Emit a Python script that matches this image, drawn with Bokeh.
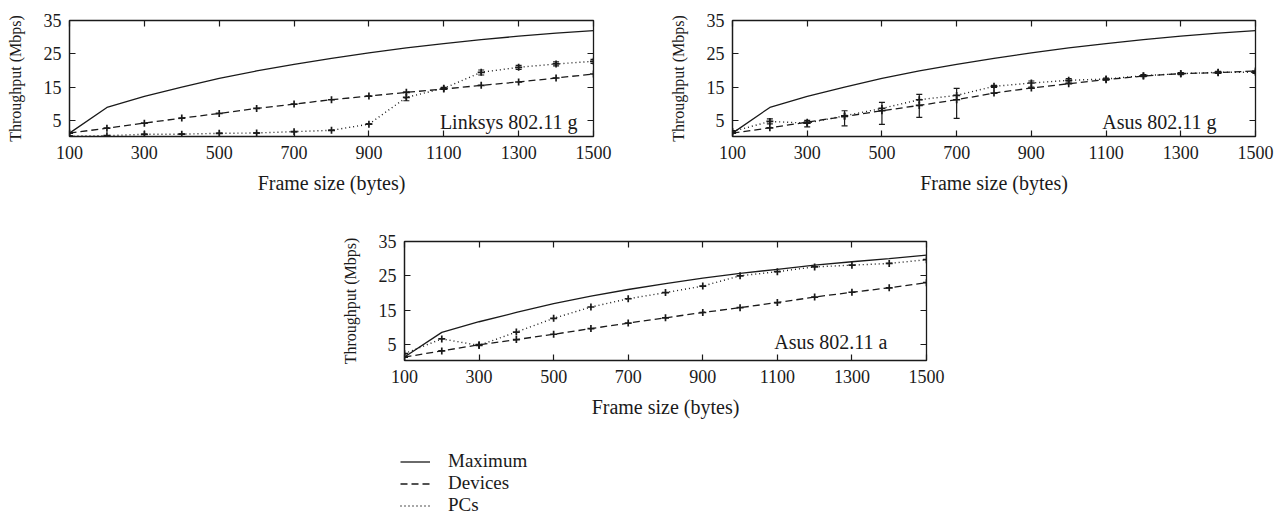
from bokeh.plotting import figure
from bokeh.models import (Range1d, FixedTicker, LinearAxis, Label, Whisker, TeeHead,
                          ColumnDataSource, Legend, LegendItem, Spacer)
from bokeh.layouts import column, row
from bokeh.embed import file_html
from bokeh.resources import INLINE

# ---------------- data ----------------
frame_sizes = [100, 200, 300, 400, 500, 600, 700, 800, 900, 1000, 1100, 1200, 1300, 1400, 1500]
x_ticks = [100, 300, 500, 700, 900, 1100, 1300, 1500]
y_ticks = [5, 15, 25, 35]

# Linksys 802.11 g
max_g = [1.3, 9.0, 12.3, 15.1, 17.7, 19.9, 21.9, 23.7, 25.3, 26.8, 28.1, 29.3, 30.3, 31.2, 32.0]
linksys_dev = [1.3, 2.8, 4.3, 5.8, 7.2, 8.7, 10.0, 11.3, 12.4, 13.5, 14.5, 15.6, 16.6, 17.8, 19.0]
linksys_pc = [0.4, 0.55, 0.95, 1.0, 1.25, 1.35, 1.75, 2.15, 4.0, 12.0, 14.7, 19.5, 21.0, 22.0, 22.8]
linksys_pc_lo = [0.4, 0.55, 0.95, 1.0, 1.25, 1.35, 1.75, 2.15, 4.0, 11.0, 14.4, 18.7, 20.4, 21.4, 22.2]
linksys_pc_hi = [0.4, 0.55, 0.95, 1.0, 1.25, 1.35, 1.75, 2.15, 4.0, 13.6, 15.0, 20.2, 21.6, 22.6, 23.4]

# Asus 802.11 g
asus_g_dev = [1.3, 2.9, 4.6, 6.3, 8.0, 9.6, 11.3, 13.3, 14.8, 16.1, 17.3, 18.4, 19.1, 19.4, 19.9]
asus_g_pc = [1.8, 4.8, 4.3, 6.5, 8.7, 11.3, 12.6, 15.3, 16.3, 17.1, 17.5, 18.5, 19.1, 19.5, 19.5]
asus_g_pc_lo = [1.5, 4.1, 3.2, 3.5, 3.9, 6.0, 5.7, 15.0, 15.1, 16.6, 17.2, 18.2, 18.8, 19.2, 19.2]
asus_g_pc_hi = [2.1, 5.6, 5.1, 8.0, 10.5, 12.9, 14.7, 15.6, 16.9, 17.6, 17.8, 18.8, 19.4, 19.8, 19.8]

# Asus 802.11 a
max_a = [1.3, 8.5, 11.6, 14.3, 16.9, 19.05, 21.0, 22.7, 24.3, 25.7, 26.9, 28.1, 29.1, 30.0, 31.0]
asus_a_dev = [1.3, 3.1, 4.9, 6.4, 7.95, 9.6, 11.2, 12.75, 14.3, 15.7, 17.2, 18.8, 20.2, 21.5, 23.0]
asus_a_pc = [2.3, 6.6, 4.7, 8.6, 12.6, 15.9, 18.3, 20.1, 22.0, 25.0, 26.2, 27.6, 28.1, 28.6, 29.7]

series_names = ["Maximum", "Devices", "PCs"]
panel_titles = ["Linksys 802.11 g", "Asus 802.11 g", "Asus 802.11 a"]

FONT = "Liberation Serif"
INK = "#1a1a1a"


def make_panel(width, height, bl, br, bt, bb, maxv, dev, pc, pc_lo, pc_hi, title, lx, ly):
    p = figure(width=width, height=height, output_backend="svg", toolbar_location=None,
               x_range=Range1d(100, 1500), y_range=Range1d(0.3, 35),
               min_border_left=bl, min_border_right=br, min_border_top=bt, min_border_bottom=bb,
               x_axis_label="Frame size (bytes)", y_axis_label="Throughput (Mbps)")
    p.grid.visible = False
    p.outline_line_color = INK
    p.outline_line_width = 1.3
    p.background_fill_color = None
    p.border_fill_color = None

    xa = p.xaxis[0]
    ya = p.yaxis[0]
    xa.ticker = FixedTicker(ticks=x_ticks)
    ya.ticker = FixedTicker(ticks=y_ticks)
    for ax in (xa, ya):
        ax.major_tick_in = 6
        ax.major_tick_out = 0
        ax.minor_tick_line_color = None
        ax.major_tick_line_color = INK
        ax.major_tick_line_width = 1.2
        ax.axis_line_color = INK
        ax.axis_line_width = 1.2
        ax.major_label_text_font = FONT
        ax.major_label_text_font_size = "18px"
        ax.major_label_text_color = INK
        ax.axis_label_text_font = FONT
        ax.axis_label_text_font_style = "normal"
        ax.axis_label_text_color = INK
    xa.major_label_standoff = 9
    xa.axis_label_standoff = 10
    xa.axis_label_text_font_size = "20px"
    ya.major_label_standoff = 8
    ya.axis_label_standoff = 17
    ya.axis_label_text_font_size = "16px"

    # mirrored tick marks on top and right (no labels)
    for side, tk in (("above", x_ticks), ("right", y_ticks)):
        m = LinearAxis(ticker=FixedTicker(ticks=tk), major_tick_in=6, major_tick_out=0,
                       minor_tick_line_color=None, axis_line_color=None,
                       major_tick_line_color=INK, major_tick_line_width=1.2,
                       major_label_overrides={t: "" for t in tk},
                       major_label_text_font_size="1px", major_label_standoff=0)
        p.add_layout(m, side)

    has_err = pc_lo is not None
    src = ColumnDataSource(dict(x=frame_sizes, maxv=maxv, dev=dev, pc=pc,
                                lo=pc_lo if has_err else pc, hi=pc_hi if has_err else pc))
    p.line("x", "maxv", source=src, line_color=INK, line_width=1.3)
    p.line("x", "dev", source=src, line_color=INK, line_width=1.3, line_dash="7 4")
    p.line("x", "pc", source=src, line_color=INK, line_width=1.4, line_dash="1 3")
    p.scatter("x", "dev", source=src, marker="cross", size=7, line_color=INK, line_width=1.7)
    p.scatter("x", "pc", source=src, marker="cross", size=7, line_color=INK, line_width=1.7)
    if has_err:
        w = Whisker(base="x", lower="lo", upper="hi", source=src, line_color=INK, line_width=1.2,
                    upper_head=TeeHead(size=6, line_color=INK, line_width=1.2),
                    lower_head=TeeHead(size=6, line_color=INK, line_width=1.2))
        p.add_layout(w)

    p.add_layout(Label(x=lx, y=ly, x_units="screen", y_units="screen", text=title,
                       text_align="right", text_baseline="alphabetic",
                       text_font=FONT, text_font_size="20px", text_color=INK))
    return p


p1 = make_panel(663, 200, 69, 70, 19, 64, max_g, linksys_dev, linksys_pc,
                linksys_pc_lo, linksys_pc_hi, panel_titles[0], 508, 15)
p2 = make_panel(617, 200, 69, 25, 20, 63, max_g, asus_g_dev, asus_g_pc,
                asus_g_pc_lo, asus_g_pc_hi, panel_titles[1], 484, 15)
p3 = make_panel(618, 220, 64, 30, 41, 58, max_a, asus_a_dev, asus_a_pc,
                None, None, panel_titles[2], 483, 19)

# legend panel
leg = figure(width=620, height=100, output_backend="svg", toolbar_location=None,
             x_range=Range1d(0, 1), y_range=Range1d(0, 1),
             min_border_left=0, min_border_right=0, min_border_top=0, min_border_bottom=0)
leg.axis.visible = False
leg.grid.visible = False
leg.outline_line_color = None
leg.background_fill_color = None
leg.border_fill_color = None
nan = float("nan")
r_max = leg.line(x=[nan], y=[nan], line_color=INK, line_width=1.3)
r_dev = leg.line(x=[nan], y=[nan], line_color=INK, line_width=1.3, line_dash="7 4")
r_pc = leg.line(x=[nan], y=[nan], line_color=INK, line_width=1.4, line_dash="1 3")
legend = Legend(items=[LegendItem(label=series_names[0], renderers=[r_max]),
                       LegendItem(label=series_names[1], renderers=[r_dev]),
                       LegendItem(label=series_names[2], renderers=[r_pc])],
                location=(400, 4), glyph_width=30, glyph_height=21, spacing=0, padding=0,
                label_standoff=18, border_line_color=None, background_fill_alpha=0,
                label_text_font=FONT, label_text_font_size="19px", label_text_color=INK,
                label_height=21, margin=0)
leg.add_layout(legend)

layout = column(row(p1, p2), row(Spacer(width=338, height=220), p3), leg)

open("out.html", "w").write(file_html(layout, INLINE))
